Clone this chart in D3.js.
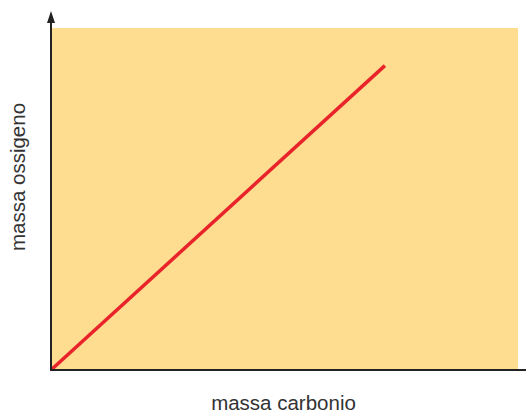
<!DOCTYPE html>
<html><head><meta charset="utf-8">
<script src="https://cdn.jsdelivr.net/npm/d3@7"></script>
<style>body{margin:0;background:#fff}svg{display:block}</style>
</head><body>
<script>
const carbonMass = [0, 71.5];
const oxygenMass = [0, 89];
const xLabel = "massa carbonio";
const yLabel = "massa ossigeno";

const W = 526, H = 413;
const m = {left: 51, right: 8, top: 28, bottom: 43};
const svg = d3.select("body").append("svg").attr("width", W).attr("height", H);
const x = d3.scaleLinear().domain([0, 100]).range([m.left, W - m.right]);
const y = d3.scaleLinear().domain([0, 100]).range([H - m.bottom, m.top]);

svg.append("rect").attr("x", x(0)).attr("y", y(100))
  .attr("width", x(100) - x(0)).attr("height", y(0) - y(100))
  .attr("fill", "#FEDC90");

const pts = carbonMass.map((c, i) => [c, oxygenMass[i]]);
svg.append("path").datum(pts)
  .attr("d", d3.line().x(d => x(d[0])).y(d => y(d[1])))
  .attr("stroke", "#E8232A").attr("stroke-width", 3.5).attr("fill", "none");

// axes
svg.append("line").attr("x1", x(0)).attr("x2", W).attr("y1", y(0)).attr("y2", y(0))
  .attr("stroke", "#222").attr("stroke-width", 2);
svg.append("line").attr("x1", x(0)).attr("x2", x(0)).attr("y1", y(0) + 1).attr("y2", 18)
  .attr("stroke", "#222").attr("stroke-width", 2);
svg.append("path").attr("d", `M${x(0)},11 L${x(0)-4},23 L${x(0)+4},23 Z`).attr("fill", "#222");

svg.append("text").attr("x", 283.5).attr("y", 410).attr("text-anchor", "middle")
  .attr("font-family", "Liberation Sans, Arial, sans-serif").attr("font-size", 20.5)
  .attr("fill", "#333").text(xLabel);
svg.append("text").attr("transform", "translate(25,177) rotate(-90)").attr("text-anchor", "middle")
  .attr("font-family", "Liberation Sans, Arial, sans-serif").attr("font-size", 20.5)
  .attr("fill", "#333").text(yLabel);
</script>
</body></html>
